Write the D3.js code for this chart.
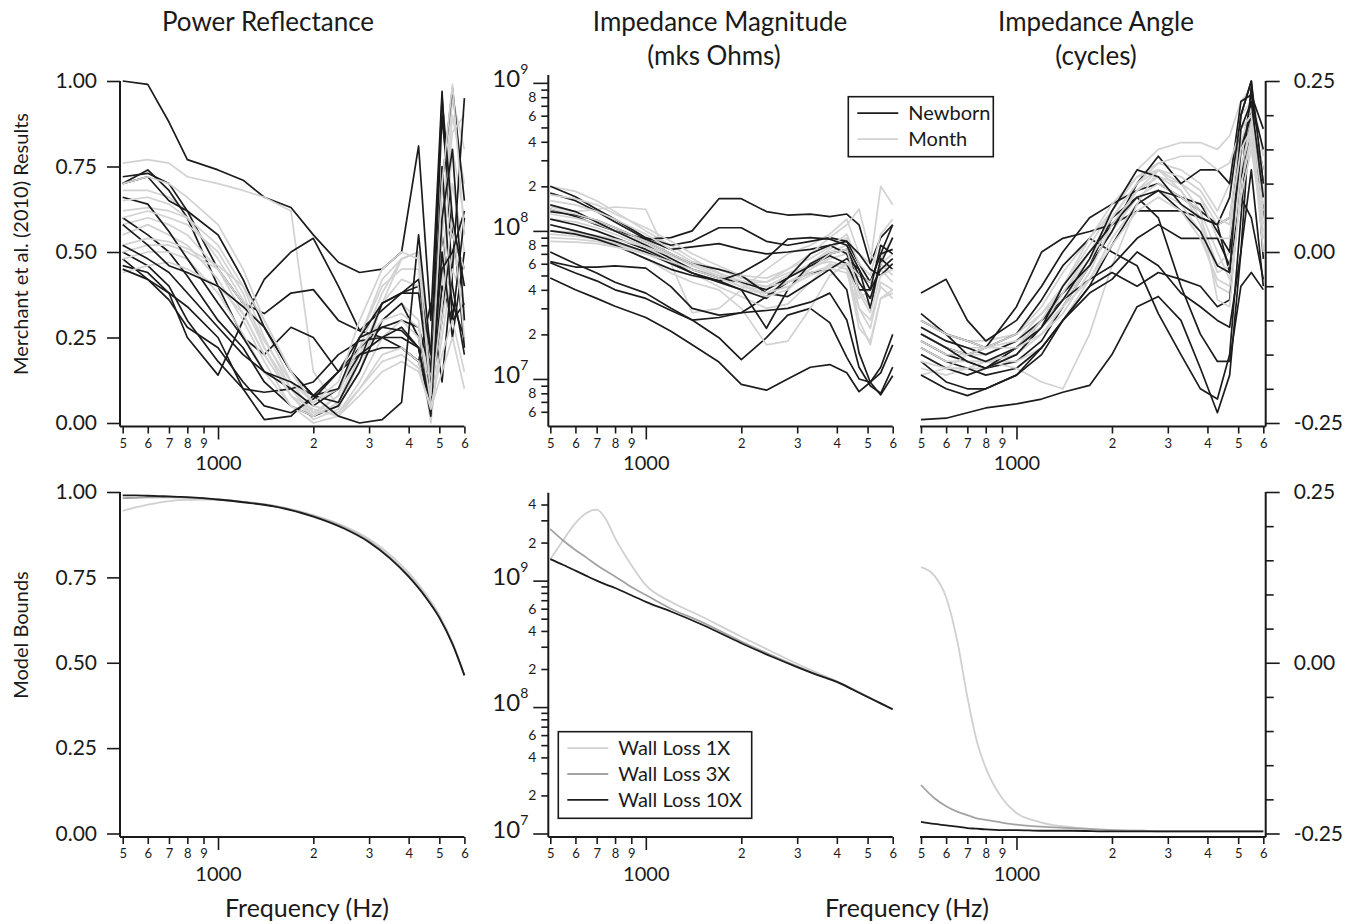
<!DOCTYPE html>
<html>
<head>
<meta charset="utf-8">
<script src="https://cdn.jsdelivr.net/npm/d3@7"></script>
<style>
  body { margin: 0; background: #fff; }
  svg text { font-family: Lato, "Open Sans", sans-serif; fill: #1a1a1a; }
</style>
</head>
<body>
<svg id="fig" width="1351" height="924"></svg>
<script>
// frequencies (Hz) of the measured curves (top row)
var freqs = [500, 600, 700, 800, 1000, 1200, 1400, 1700, 2000, 2400, 2800, 3300, 3800, 4300, 4700, 5100, 5500, 6000];
// frequencies (Hz) of the model curves (bottom row)
var modelFreqs = [500, 550, 600, 650, 700, 750, 800, 900, 1000, 1200, 1500, 2000, 2500, 3000, 3500, 4000, 4500, 5000, 5500, 6000];

// x tick labels
var xMinorTicks = [500, 600, 700, 800, 900, 2000, 3000, 4000, 5000, 6000];
var xMajorTicks = [1000];

// --- Power reflectance, Merchant et al. (2010)
var reflNewborn = [
  [1.00, 0.99, 0.88, 0.77, 0.74, 0.71, 0.66, 0.63, 0.55, 0.47, 0.44, 0.45, 0.50, 0.81, 0.30, 0.97, 0.40, 0.20],
  [0.48, 0.42, 0.38, 0.25, 0.14, 0.30, 0.42, 0.50, 0.54, 0.40, 0.27, 0.25, 0.22, 0.18, 0.05, 0.55, 0.35, 0.25],
  [0.72, 0.73, 0.70, 0.62, 0.45, 0.35, 0.32, 0.38, 0.39, 0.30, 0.27, 0.33, 0.38, 0.40, 0.15, 0.90, 0.55, 0.45],
  [0.70, 0.74, 0.68, 0.60, 0.40, 0.25, 0.20, 0.28, 0.25, 0.15, 0.22, 0.28, 0.30, 0.28, 0.15, 0.70, 0.98, 0.65],
  [0.60, 0.55, 0.50, 0.43, 0.30, 0.22, 0.12, 0.05, 0.02, 0.05, 0.15, 0.30, 0.35, 0.25, 0.05, 0.40, 0.30, 0.35],
  [0.50, 0.46, 0.40, 0.30, 0.18, 0.10, 0.09, 0.10, 0.12, 0.20, 0.24, 0.25, 0.25, 0.22, 0.10, 0.30, 0.60, 0.22],
  [0.46, 0.44, 0.38, 0.34, 0.25, 0.10, 0.01, 0.02, 0.08, 0.15, 0.20, 0.22, 0.22, 0.18, 0.35, 0.12, 0.45, 0.95],
  [0.66, 0.64, 0.56, 0.48, 0.35, 0.25, 0.15, 0.10, 0.05, 0.10, 0.20, 0.25, 0.28, 0.22, 0.05, 0.50, 0.25, 0.50],
  [0.58, 0.52, 0.46, 0.44, 0.40, 0.34, 0.28, 0.15, 0.08, 0.06, 0.18, 0.35, 0.38, 0.38, 0.10, 0.75, 0.30, 0.60],
  [0.45, 0.42, 0.36, 0.28, 0.22, 0.12, 0.05, 0.03, 0.07, 0.15, 0.25, 0.28, 0.27, 0.22, 0.02, 0.60, 0.80, 0.30],
  [0.70, 0.72, 0.65, 0.62, 0.55, 0.42, 0.28, 0.15, 0.08, 0.10, 0.25, 0.35, 0.38, 0.42, 0.20, 0.95, 0.60, 0.40],
  [0.52, 0.48, 0.44, 0.38, 0.28, 0.20, 0.15, 0.12, 0.08, 0.02, 0.00, 0.01, 0.06, 0.55, 0.20, 0.45, 0.50, 0.62]
];
var reflMonth = [
  [0.76, 0.77, 0.76, 0.72, 0.70, 0.68, 0.66, 0.62, 0.15, 0.05, 0.15, 0.35, 0.48, 0.50, 0.10, 0.60, 0.95, 0.80],
  [0.68, 0.68, 0.66, 0.62, 0.55, 0.42, 0.28, 0.12, 0.03, 0.08, 0.25, 0.40, 0.45, 0.45, 0.05, 0.55, 0.90, 0.70],
  [0.62, 0.63, 0.62, 0.60, 0.52, 0.40, 0.25, 0.10, 0.02, 0.05, 0.20, 0.35, 0.42, 0.40, 0.02, 0.45, 0.80, 0.60],
  [0.58, 0.60, 0.58, 0.55, 0.45, 0.32, 0.20, 0.08, 0.01, 0.04, 0.18, 0.30, 0.35, 0.30, 0.03, 0.40, 0.70, 0.50],
  [0.55, 0.58, 0.55, 0.52, 0.42, 0.30, 0.18, 0.05, 0.02, 0.06, 0.22, 0.38, 0.48, 0.50, 0.10, 0.55, 0.85, 0.90],
  [0.50, 0.52, 0.52, 0.50, 0.45, 0.35, 0.22, 0.10, 0.03, 0.03, 0.12, 0.25, 0.30, 0.25, 0.00, 0.30, 0.50, 0.40],
  [0.48, 0.50, 0.50, 0.48, 0.38, 0.26, 0.15, 0.05, 0.00, 0.02, 0.10, 0.20, 0.22, 0.18, 0.02, 0.25, 0.45, 0.35],
  [0.44, 0.46, 0.47, 0.45, 0.40, 0.32, 0.20, 0.08, 0.02, 0.08, 0.25, 0.42, 0.48, 0.50, 0.20, 0.60, 0.55, 0.45],
  [0.65, 0.66, 0.64, 0.60, 0.48, 0.36, 0.24, 0.12, 0.06, 0.10, 0.22, 0.30, 0.32, 0.28, 0.06, 0.35, 0.60, 0.25],
  [0.60, 0.62, 0.60, 0.58, 0.50, 0.38, 0.22, 0.08, 0.04, 0.02, 0.08, 0.15, 0.18, 0.15, 0.05, 0.20, 0.30, 0.15],
  [0.52, 0.54, 0.53, 0.51, 0.46, 0.40, 0.30, 0.15, 0.05, 0.03, 0.10, 0.18, 0.20, 0.16, 0.04, 0.15, 0.25, 0.10],
  [0.70, 0.72, 0.70, 0.66, 0.58, 0.45, 0.30, 0.15, 0.06, 0.12, 0.30, 0.45, 0.50, 0.48, 0.08, 0.70, 0.99, 0.55]
];

// --- Impedance magnitude, in units of 1e6 mks ohms
var magUnit = 1e6;
var magNewborn = [
  [48, 40, 35, 31, 26, 21, 17, 13, 9.2, 8.4, 10, 12, 12.5, 11, 8.2, 9.5, 7.8, 10.5],
  [61, 52, 46, 40, 35, 29, 25, 19, 13.5, 19, 27, 30, 24, 14, 10, 9.5, 12, 20],
  [72, 60, 52, 45, 38, 30, 25, 26, 28, 29, 30, 33, 38, 25, 12, 9, 8, 12],
  [62, 57, 57, 58, 56, 42, 30, 27, 28, 36, 45, 52, 55, 40, 15, 9.5, 11, 17],
  [140, 125, 110, 100, 88, 90, 100, 165, 165, 135, 128, 130, 125, 130, 110, 60, 90, 110],
  [200, 170, 140, 120, 90, 80, 85, 105, 105, 85, 80, 85, 90, 85, 60, 45, 70, 110],
  [180, 160, 135, 115, 88, 75, 78, 82, 75, 70, 72, 75, 80, 70, 45, 35, 60, 90],
  [150, 135, 115, 100, 80, 65, 55, 48, 45, 40, 48, 58, 68, 60, 40, 40, 55, 65],
  [120, 110, 100, 90, 75, 62, 52, 46, 40, 22, 40, 60, 70, 75, 50, 45, 70, 75],
  [135, 128, 118, 105, 85, 70, 60, 55, 50, 38, 36, 45, 55, 65, 55, 30, 65, 55],
  [110, 100, 92, 85, 72, 60, 52, 45, 40, 35, 48, 70, 80, 85, 70, 55, 50, 60],
  [100, 95, 88, 80, 65, 55, 50, 46, 52, 65, 88, 90, 88, 80, 55, 40, 80, 70]
];
var magMonth = [
  [145, 135, 140, 145, 140, 60, 28, 30, 40, 55, 70, 80, 95, 120, 70, 60, 200, 150],
  [110, 100, 90, 80, 65, 52, 45, 40, 30, 17, 18, 30, 50, 60, 25, 17, 35, 40],
  [200, 185, 160, 135, 100, 80, 65, 52, 45, 42, 50, 60, 75, 90, 40, 30, 60, 50],
  [90, 88, 85, 80, 70, 60, 52, 45, 40, 38, 45, 55, 65, 70, 30, 22, 45, 40],
  [130, 122, 112, 100, 82, 68, 58, 50, 42, 40, 48, 60, 72, 80, 45, 35, 65, 90],
  [95, 92, 88, 82, 72, 62, 55, 50, 45, 45, 52, 58, 62, 58, 35, 40, 55, 45],
  [160, 150, 135, 120, 95, 75, 62, 55, 48, 45, 55, 70, 90, 110, 140, 70, 55, 60],
  [120, 115, 105, 95, 78, 62, 52, 42, 36, 30, 32, 45, 60, 55, 22, 18, 35, 38],
  [100, 98, 93, 88, 78, 68, 60, 52, 46, 42, 45, 52, 58, 60, 50, 45, 60, 70],
  [175, 165, 150, 130, 105, 85, 70, 58, 50, 48, 55, 65, 78, 95, 60, 50, 95, 120],
  [140, 130, 118, 105, 85, 70, 60, 52, 44, 36, 40, 55, 70, 75, 38, 28, 50, 55],
  [85, 84, 82, 78, 70, 62, 55, 48, 42, 38, 42, 50, 56, 52, 30, 25, 42, 35]
];

// --- Impedance angle (cycles)
var angNewborn = [
  [-0.245, -0.243, -0.235, -0.228, -0.222, -0.215, -0.205, -0.195, -0.15, -0.08, -0.065, -0.10, -0.17, -0.235, -0.18, 0.00, 0.22, 0.06],
  [-0.10, -0.12, -0.13, -0.14, -0.12, -0.07, -0.02, 0.02, 0.00, -0.02, -0.09, -0.15, -0.20, -0.215, -0.15, 0.05, 0.24, 0.10],
  [-0.13, -0.15, -0.16, -0.17, -0.16, -0.13, -0.08, -0.02, 0.05, 0.08, 0.05, -0.05, -0.12, -0.16, -0.16, -0.05, -0.03, -0.055],
  [-0.06, -0.04, -0.10, -0.13, -0.10, -0.05, 0.00, 0.05, 0.07, 0.09, 0.10, 0.08, 0.07, 0.03, 0.00, 0.20, 0.25, 0.05],
  [-0.12, -0.14, -0.15, -0.14, -0.08, 0.00, 0.02, 0.03, 0.04, 0.06, 0.06, 0.06, 0.05, 0.04, 0.05, 0.15, 0.22, 0.15],
  [-0.14, -0.16, -0.17, -0.18, -0.17, -0.14, -0.10, -0.05, 0.01, 0.07, 0.09, 0.08, 0.06, 0.04, -0.03, 0.15, 0.20, 0.12],
  [-0.16, -0.19, -0.20, -0.20, -0.18, -0.15, -0.10, -0.05, -0.03, -0.05, -0.03, -0.04, -0.05, -0.08, -0.07, 0.10, 0.24, -0.01],
  [-0.11, -0.13, -0.14, -0.15, -0.13, -0.10, -0.07, -0.04, -0.02, 0.02, 0.04, 0.02, 0.02, 0.02, -0.02, 0.08, 0.05, -0.04],
  [-0.15, -0.17, -0.18, -0.17, -0.14, -0.10, -0.06, -0.02, 0.03, 0.10, 0.14, 0.10, 0.12, 0.12, 0.10, 0.22, 0.23, 0.18],
  [-0.18, -0.20, -0.21, -0.20, -0.18, -0.14, -0.10, -0.06, -0.04, 0.00, -0.02, -0.06, -0.08, -0.10, -0.11, 0.00, 0.12, -0.05],
  [-0.09, -0.12, -0.15, -0.16, -0.14, -0.11, -0.05, 0.00, 0.04, 0.08, 0.09, 0.06, 0.03, -0.02, -0.03, 0.18, 0.22, 0.08],
  [-0.12, -0.14, -0.16, -0.17, -0.15, -0.11, -0.07, -0.01, 0.06, 0.12, 0.11, 0.07, 0.05, 0.04, 0.08, 0.20, 0.25, 0.10]
];
var angMonth = [
  [-0.10, -0.12, -0.13, -0.13, -0.12, -0.08, -0.03, 0.02, 0.06, 0.12, 0.15, 0.16, 0.16, 0.15, 0.17, 0.22, 0.24, 0.14],
  [-0.13, -0.15, -0.16, -0.16, -0.14, -0.10, -0.05, 0.01, 0.06, 0.11, 0.13, 0.12, 0.10, 0.06, 0.10, 0.20, 0.22, 0.08],
  [-0.15, -0.17, -0.17, -0.17, -0.15, -0.12, -0.08, -0.02, 0.03, 0.09, 0.11, 0.09, 0.05, -0.02, 0.00, 0.14, 0.20, 0.10],
  [-0.12, -0.14, -0.15, -0.15, -0.13, -0.09, -0.05, 0.00, 0.05, 0.10, 0.12, 0.10, 0.06, 0.00, -0.04, 0.12, 0.18, 0.04],
  [-0.17, -0.18, -0.17, -0.16, -0.16, -0.14, -0.10, -0.04, 0.02, 0.07, 0.09, 0.07, 0.03, -0.05, -0.06, 0.10, 0.17, 0.06],
  [-0.18, -0.17, -0.15, -0.16, -0.17, -0.19, -0.20, -0.12, -0.02, 0.07, 0.12, 0.10, 0.08, 0.02, 0.02, 0.16, 0.21, 0.12],
  [-0.11, -0.13, -0.14, -0.14, -0.12, -0.09, -0.06, -0.01, 0.04, 0.09, 0.11, 0.10, 0.08, 0.04, 0.05, 0.18, 0.20, 0.02],
  [-0.14, -0.16, -0.16, -0.16, -0.14, -0.11, -0.07, -0.02, 0.03, 0.08, 0.10, 0.08, 0.06, -0.07, -0.08, 0.10, 0.16, 0.05],
  [-0.12, -0.14, -0.15, -0.16, -0.15, -0.11, -0.06, 0.00, 0.05, 0.10, 0.13, 0.14, 0.14, 0.12, 0.13, 0.18, 0.20, 0.09],
  [-0.16, -0.17, -0.17, -0.16, -0.14, -0.10, -0.05, 0.02, 0.07, 0.11, 0.12, 0.09, 0.04, -0.03, -0.02, 0.12, 0.19, 0.07],
  [-0.13, -0.15, -0.15, -0.14, -0.13, -0.11, -0.08, -0.04, 0.01, 0.06, 0.08, 0.06, 0.02, -0.04, -0.05, 0.08, 0.15, 0.03],
  [-0.10, -0.12, -0.13, -0.14, -0.14, -0.12, -0.09, -0.03, 0.04, 0.09, 0.12, 0.11, 0.09, 0.05, 0.04, 0.15, 0.18, 0.00]
];

// --- Model bounds (Wall Loss 1X, 3X, 10X)
var wallLabels = ["Wall Loss 1X", "Wall Loss 3X", "Wall Loss 10X"];
var reflModel = [
  [0.945, 0.955, 0.963, 0.969, 0.973, 0.976, 0.977, 0.978, 0.977, 0.971, 0.960, 0.932, 0.900, 0.862, 0.816, 0.764, 0.705, 0.640, 0.560, 0.465],
  [0.982, 0.983, 0.984, 0.984, 0.984, 0.984, 0.983, 0.981, 0.978, 0.971, 0.959, 0.930, 0.896, 0.856, 0.808, 0.755, 0.697, 0.634, 0.556, 0.463],
  [0.990, 0.990, 0.989, 0.988, 0.987, 0.986, 0.985, 0.982, 0.978, 0.970, 0.958, 0.928, 0.893, 0.853, 0.805, 0.752, 0.695, 0.632, 0.555, 0.463]
];
var magModel = [
  [1.48e9, 2.1e9, 2.85e9, 3.43e9, 3.64e9, 3.03e9, 2.17e9, 1.33e9, 0.92e9, 0.68e9, 0.52e9, 0.36e9, 0.274e9, 0.22e9, 0.185e9, 0.16e9, 0.139e9, 0.121e9, 0.107e9, 0.096e9],
  [2.56e9, 2.07e9, 1.75e9, 1.52e9, 1.33e9, 1.19e9, 1.08e9, 0.89e9, 0.77e9, 0.60e9, 0.47e9, 0.33e9, 0.256e9, 0.21e9, 0.18e9, 0.159e9, 0.138e9, 0.121e9, 0.107e9, 0.096e9],
  [1.48e9, 1.33e9, 1.2e9, 1.09e9, 1.0e9, 0.93e9, 0.875e9, 0.766e9, 0.68e9, 0.57e9, 0.45e9, 0.32e9, 0.25e9, 0.207e9, 0.178e9, 0.158e9, 0.137e9, 0.12e9, 0.107e9, 0.096e9]
];
var angModel = [
  [0.140, 0.128, 0.096, 0.033, -0.050, -0.115, -0.154, -0.198, -0.220, -0.234, -0.241, -0.245, -0.246, -0.247, -0.247, -0.247, -0.247, -0.247, -0.247, -0.247],
  [-0.179, -0.198, -0.210, -0.218, -0.223, -0.228, -0.230, -0.234, -0.237, -0.240, -0.242, -0.245, -0.246, -0.247, -0.247, -0.247, -0.247, -0.247, -0.247, -0.247],
  [-0.233, -0.236, -0.238, -0.240, -0.242, -0.243, -0.244, -0.245, -0.245, -0.246, -0.246, -0.247, -0.247, -0.247, -0.247, -0.247, -0.247, -0.247, -0.247, -0.247]
];

var newbornColor = "#1c1c1c", monthColor = "#d2d2d2";
var modelColors = ["#d0d0d0", "#a3a3a3", "#1c1c1c"];

var svg = d3.select("#fig");

// column x ranges and row y ranges of the plotting areas
var cols = [[122.7, 464.4], [550.3, 892.7], [921, 1263.3]];
var rows = [{top: 81, bottom: 423, axis: 426.5}, {top: 492, bottom: 833.5, axis: 837}];

function xScale(c) { return d3.scaleLog().domain([500, 6000]).range(cols[c]); }

function axisLine(x1, y1, x2, y2) {
  svg.append("line").attr("x1", x1).attr("y1", y1).attr("x2", x2).attr("y2", y2)
    .attr("stroke", "#1a1a1a").attr("stroke-width", 2);
}

function styleTicks(g) {
  g.select(".domain").remove();
  g.selectAll("line").attr("stroke", "#1a1a1a").attr("stroke-width", 1.6);
}

function drawXAxis(x, y0, x0, x1) {
  axisLine(x0, y0, x1, y0);
  var minor = svg.append("g").attr("transform", "translate(0," + y0 + ")")
    .call(d3.axisBottom(x).tickValues(xMinorTicks).tickSize(7)
      .tickFormat(function(d) { return d < 1000 ? d / 100 : d / 1000; }));
  styleTicks(minor);
  minor.selectAll("text").attr("y", 21).attr("dy", 0).style("font-size", "13px");
  var major = svg.append("g").attr("transform", "translate(0," + y0 + ")")
    .call(d3.axisBottom(x).tickValues(xMajorTicks).tickSize(13).tickFormat(d3.format("d")));
  styleTicks(major);
  major.selectAll("text").attr("y", 43.5).attr("dy", 0).style("font-size", "20px");
}

function drawLinearLeft(y, yTop, yBot) {
  axisLine(120, yTop, 120, yBot);
  var g = svg.append("g").attr("transform", "translate(120,0)")
    .call(d3.axisLeft(y).tickValues([0, 0.25, 0.5, 0.75, 1]).tickSize(13).tickPadding(10)
      .tickFormat(function(d) { return d.toFixed(2); }));
  styleTicks(g);
  g.selectAll("text").style("font-size", "21px");
}

function drawAngleRight(y, yTop, yBot) {
  var ax = 1265.7;
  axisLine(ax, yTop, ax, yBot);
  var minor = svg.append("g").attr("transform", "translate(" + ax + ",0)")
    .call(d3.axisRight(y).tickValues([-0.2, -0.15, -0.1, -0.05, 0.05, 0.1, 0.15, 0.2]).tickSize(8).tickFormat(""));
  styleTicks(minor);
  var major = svg.append("g").attr("transform", "translate(" + ax + ",0)")
    .call(d3.axisRight(y).tickValues([-0.25, 0, 0.25]).tickSize(14).tickPadding(14)
      .tickFormat(function(d) { return d.toFixed(2); }));
  styleTicks(major);
  major.selectAll("text").style("font-size", "21px");
}

function drawLogLeft(y, yTop, yBot, labelled) {
  var ax = 548.3;
  axisLine(ax, yTop, ax, yBot);
  var dom = y.domain(), minorVals = [], majorVals = [];
  for (var e = Math.floor(Math.log10(dom[0])); e <= Math.ceil(Math.log10(dom[1])); e++) {
    for (var m = 1; m <= 9; m++) {
      var v = m * Math.pow(10, e);
      if (v < dom[0] * 0.999 || v > dom[1] * 1.001) continue;
      if (m === 1) majorVals.push(v); else minorVals.push(v);
    }
  }
  var minor = svg.append("g").attr("transform", "translate(" + ax + ",0)")
    .call(d3.axisLeft(y).tickValues(minorVals).tickSize(7).tickPadding(5)
      .tickFormat(function(d) {
        var m = Math.round(d / Math.pow(10, Math.floor(Math.log10(d) + 1e-9)));
        return labelled.indexOf(m) >= 0 ? m : "";
      }));
  styleTicks(minor);
  minor.selectAll("text").style("font-size", "14px");
  var major = svg.append("g").attr("transform", "translate(" + ax + ",0)")
    .call(d3.axisLeft(y).tickValues(majorVals).tickSize(15).tickPadding(5).tickFormat(""));
  styleTicks(major);
  major.selectAll("text").each(function(d) {
    var t = d3.select(this).attr("dy", "0.38em");
    t.append("tspan").style("font-size", "24px").text("10");
    t.append("tspan").style("font-size", "14px").attr("dy", "-0.95em").text(Math.round(Math.log10(d)));
  });
}

function drawCurves(x, y, fs, series, color, clipId) {
  var line = d3.line().x(function(d) { return x(d[0]); }).y(function(d) { return y(d[1]); });
  return series.map(function(vals) {
    return svg.append("path")
      .datum(fs.map(function(f, i) { return [f, vals[i]]; }))
      .attr("d", line)
      .attr("clip-path", "url(#" + clipId + ")")
      .attr("fill", "none").attr("stroke", color).attr("stroke-width", 1.7)
      .attr("stroke-linejoin", "round");
  });
}

function drawModel(x, y, series, clipId) {
  var line = d3.line().curve(d3.curveMonotoneX)
    .x(function(d) { return x(d[0]); }).y(function(d) { return y(d[1]); });
  series.forEach(function(vals, k) {
    svg.append("path")
      .datum(modelFreqs.map(function(f, i) { return [f, vals[i]]; }))
      .attr("d", line)
      .attr("clip-path", "url(#" + clipId + ")")
      .attr("fill", "none").attr("stroke", modelColors[k]).attr("stroke-width", 1.8);
  });
}

// clip regions
var defs = svg.append("defs");
[0, 1].forEach(function(r) {
  cols.forEach(function(c, ci) {
    defs.append("clipPath").attr("id", "clip" + r + ci).append("rect")
      .attr("x", c[0] - 2).attr("width", c[1] - c[0] + 4)
      .attr("y", rows[r].top - 8).attr("height", rows[r].bottom - rows[r].top + 10);
  });
});

function interleave(xs, ys, newborn, month, clipId) {
  for (var i = 0; i < Math.max(newborn.length, month.length); i++) {
    if (newborn[i]) drawCurves(xs, ys, freqs, [newborn[i]], newbornColor, clipId);
    if (month[i]) drawCurves(xs, ys, freqs, [month[i]], monthColor, clipId);
  }
}

// ---------------- top row
var x0 = xScale(0), x1 = xScale(1), x2 = xScale(2);
var yRefl = d3.scaleLinear().domain([0, 1]).range([rows[0].bottom, rows[0].top]);
var yMag = d3.scaleLog().domain([5.04e6, 1.13e9]).range([rows[0].bottom, 75]);
var yAng = d3.scaleLinear().domain([-0.25, 0.25]).range([rows[0].bottom, rows[0].top]);

interleave(x0, yRefl, reflNewborn, reflMonth, "clip00");
var scaleMag = function(arr) { return arr.map(function(s) { return s.map(function(v) { return v * magUnit; }); }); };
interleave(x1, yMag, scaleMag(magNewborn), scaleMag(magMonth), "clip01");
interleave(x2, yAng, angNewborn, angMonth, "clip02");

drawLinearLeft(yRefl, rows[0].top, rows[0].axis);
drawXAxis(x0, rows[0].axis, 120, cols[0][1]);
drawLogLeft(yMag, 75, rows[0].axis, [2, 4, 6, 8]);
drawXAxis(x1, rows[0].axis, 548.3, cols[1][1]);
drawAngleRight(yAng, rows[0].top, rows[0].axis);
drawXAxis(x2, rows[0].axis, 920, 1265.7);

// ---------------- bottom row
var yRefl2 = d3.scaleLinear().domain([0, 1]).range([rows[1].bottom, rows[1].top]);
var yMag2 = d3.scaleLog().domain([1e7, 4.96e9]).range([rows[1].bottom, 492.7]);
var yAng2 = d3.scaleLinear().domain([-0.25, 0.25]).range([rows[1].bottom, rows[1].top]);

drawModel(x0, yRefl2, reflModel, "clip10");
drawModel(x1, yMag2, magModel, "clip11");
drawModel(x2, yAng2, angModel, "clip12");

drawLinearLeft(yRefl2, rows[1].top, rows[1].axis);
drawXAxis(x0, rows[1].axis, 120, cols[0][1]);
drawLogLeft(yMag2, 492.7, rows[1].axis, [2, 4, 6]);
drawXAxis(x1, rows[1].axis, 548.3, cols[1][1]);
drawAngleRight(yAng2, rows[1].top, rows[1].axis);
drawXAxis(x2, rows[1].axis, 920, 1265.7);

// ---------------- titles
function label(txt, x, y, size, rot) {
  var t = svg.append("text").attr("text-anchor", "middle").style("font-size", size + "px").text(txt);
  if (rot) t.attr("transform", "translate(" + x + "," + y + ") rotate(-90)");
  else t.attr("x", x).attr("y", y);
  return t;
}
label("Power Reflectance", 268, 31, 26);
label("Impedance Magnitude", 720, 31, 26);
label("(mks Ohms)", 714, 65, 26);
label("Impedance Angle", 1096, 31, 26);
label("(cycles)", 1096, 65, 26);
label("Merchant et al. (2010) Results", 28, 244, 20, true);
label("Model Bounds", 28, 635, 20, true);
label("Frequency (Hz)", 307, 917, 25);
label("Frequency (Hz)", 907, 917, 25);

// ---------------- legends
function legend(x, y, w, h, names, colors, step) {
  svg.append("rect").attr("x", x).attr("y", y).attr("width", w).attr("height", h)
    .attr("fill", "#fff").attr("stroke", "#1a1a1a").attr("stroke-width", 1.6);
  names.forEach(function(n, i) {
    var yy = y + 16.5 + i * step;
    svg.append("line").attr("x1", x + 9).attr("x2", x + 50).attr("y1", yy).attr("y2", yy)
      .attr("stroke", colors[i]).attr("stroke-width", 1.8);
    svg.append("text").attr("x", x + 60).attr("y", yy).attr("dy", "0.35em")
      .style("font-size", "20px").text(n);
  });
}
legend(848.3, 96.7, 145, 60, ["Newborn", "Month"], [newbornColor, monthColor], 26);
legend(558.3, 731.7, 193.4, 86.6, wallLabels, modelColors, 25.8);
</script>
</body>
</html>
